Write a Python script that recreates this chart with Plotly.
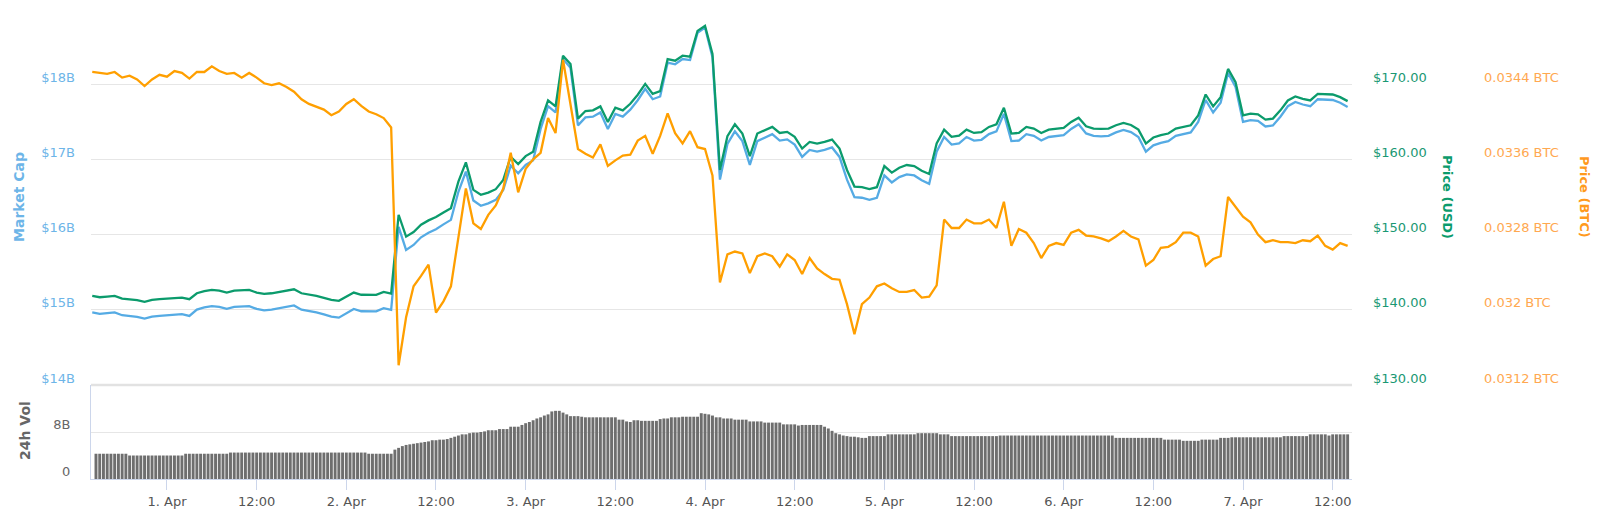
import pandas as pd
import plotly.graph_objects as go

# ---------------- data ----------------
line_start = "2019-03-31 14:00"   # hourly samples
vol_start = "2019-03-31 14:30"    # 30-minute volume bars

price_usd = [
    141.85, 141.67, 141.76, 141.85, 141.50, 141.41, 141.28, 141.06, 141.32, 141.41,
    141.50, 141.54, 141.63, 141.41, 142.20, 142.47, 142.64, 142.55, 142.29, 142.55,
    142.60, 142.64, 142.29, 142.11, 142.20, 142.38, 142.51, 142.73, 142.20, 142.07,
    141.85, 141.59, 141.32, 141.19, 141.76, 142.29, 142.00, 141.98, 141.98, 142.38,
    142.16, 152.64, 149.73, 150.35, 151.32, 151.89, 152.33, 152.95, 153.52, 157.05,
    159.60, 155.95, 155.29, 155.59, 156.04, 157.27, 160.35, 159.38, 160.44, 161.01,
    164.98, 167.84, 167.05, 173.79, 172.69, 165.42, 166.43, 166.52, 167.05, 164.98,
    166.87, 166.52, 167.40, 168.60, 170.04, 168.72, 169.07, 173.33, 173.13, 173.79,
    173.66, 177.09, 177.75, 174.01, 158.59, 163.08, 164.67, 163.44, 160.44, 163.44,
    163.88, 164.32, 163.52, 163.66, 163.00, 161.45, 162.33, 162.11, 162.33, 162.64,
    161.45, 158.59, 156.39, 156.30, 156.04, 156.30, 159.12, 158.24, 158.90, 159.25,
    159.12, 158.50, 158.06, 162.11, 163.96, 163.00, 163.17, 163.96, 163.52, 163.61,
    164.32, 164.67, 166.87, 163.44, 163.52, 164.32, 164.10, 163.52, 163.96, 164.05,
    164.19, 164.98, 165.55, 164.41, 164.10, 164.05, 164.10, 164.54, 164.85, 164.58,
    163.96, 162.11, 162.91, 163.22, 163.44, 164.10, 164.32, 164.54, 165.86, 168.63,
    167.05, 168.28, 172.03, 170.26, 165.86, 166.08, 165.99, 165.29, 165.42, 166.52,
    167.84, 168.37, 168.06, 167.84, 168.72, 168.72, 168.63, 168.28, 167.75,
]

price_btc = [
    0.03453, 0.03452, 0.03451, 0.03453, 0.03447, 0.03449, 0.03445, 0.03438, 0.03445, 0.03450,
    0.03448, 0.03454, 0.03452, 0.03446, 0.03453, 0.03453, 0.03459, 0.03454, 0.03451, 0.03452,
    0.03447, 0.03452, 0.03447, 0.03441, 0.03439, 0.03441, 0.03437, 0.03432, 0.03424, 0.03419,
    0.03416, 0.03413, 0.03407, 0.03411, 0.03419, 0.03424, 0.03417, 0.03411, 0.03408, 0.03404,
    0.03394, 0.03141, 0.03192, 0.03225, 0.03236, 0.03248, 0.03197, 0.03209, 0.03225, 0.03278,
    0.03329, 0.03292, 0.03286, 0.03301, 0.03311, 0.03329, 0.03367, 0.03325, 0.03350, 0.03360,
    0.03367, 0.03404, 0.03388, 0.03466, 0.03420, 0.03371, 0.03366, 0.03362, 0.03376, 0.03353,
    0.03359, 0.03364, 0.03365, 0.03380, 0.03385, 0.03366, 0.03385, 0.03409, 0.03388, 0.03377,
    0.03390, 0.03373, 0.03371, 0.03343, 0.03229, 0.03259, 0.03262, 0.03260, 0.03239, 0.03257,
    0.03260, 0.03257, 0.03246, 0.03259, 0.03253, 0.03238, 0.03255, 0.03244, 0.03238, 0.03233,
    0.03232, 0.03206, 0.03174, 0.03206, 0.03213, 0.03225, 0.03228, 0.03223, 0.03219, 0.03219,
    0.03221, 0.03213, 0.03214, 0.03226, 0.03296, 0.03287, 0.03287, 0.03296, 0.03292, 0.03292,
    0.03296, 0.03287, 0.03315, 0.03268, 0.03286, 0.03282, 0.03271, 0.03255, 0.03268, 0.03271,
    0.03269, 0.03282, 0.03285, 0.03279, 0.03278, 0.03276, 0.03273, 0.03278, 0.03284, 0.03278,
    0.03275, 0.03247, 0.03253, 0.03266, 0.03267, 0.03272, 0.03282, 0.03282, 0.03278, 0.03247,
    0.03254, 0.03257, 0.03320, 0.03310, 0.03299, 0.03293, 0.03280, 0.03272, 0.03274, 0.03272,
    0.03272, 0.03271, 0.03274, 0.03273, 0.03279, 0.03268, 0.03264, 0.03271, 0.03268,
]

market_cap_b = [
    14.965, 14.946, 14.956, 14.965, 14.928, 14.919, 14.905, 14.882, 14.909, 14.919,
    14.928, 14.932, 14.942, 14.919, 15.002, 15.031, 15.049, 15.039, 15.012, 15.039,
    15.044, 15.049, 15.012, 14.993, 15.002, 15.021, 15.035, 15.058, 15.002, 14.988,
    14.965, 14.938, 14.909, 14.896, 14.956, 15.012, 14.981, 14.979, 14.979, 15.021,
    14.998, 16.104, 15.797, 15.862, 15.964, 16.024, 16.071, 16.136, 16.196, 16.569,
    16.838, 16.453, 16.383, 16.415, 16.462, 16.592, 16.917, 16.815, 16.926, 16.987,
    17.405, 17.707, 17.624, 18.335, 18.219, 17.452, 17.558, 17.568, 17.624, 17.405,
    17.605, 17.568, 17.661, 17.787, 17.939, 17.800, 17.837, 18.286, 18.265, 18.335,
    18.321, 18.683, 18.753, 18.358, 16.731, 17.205, 17.373, 17.243, 16.926, 17.243,
    17.289, 17.336, 17.251, 17.266, 17.197, 17.033, 17.126, 17.103, 17.126, 17.159,
    17.033, 16.731, 16.499, 16.490, 16.462, 16.490, 16.787, 16.694, 16.764, 16.801,
    16.787, 16.722, 16.675, 17.103, 17.298, 17.197, 17.214, 17.298, 17.251, 17.261,
    17.336, 17.373, 17.605, 17.243, 17.251, 17.336, 17.313, 17.251, 17.298, 17.307,
    17.322, 17.405, 17.466, 17.345, 17.313, 17.307, 17.313, 17.359, 17.392, 17.363,
    17.298, 17.103, 17.187, 17.220, 17.243, 17.313, 17.336, 17.359, 17.498, 17.790,
    17.624, 17.754, 18.149, 17.962, 17.498, 17.521, 17.512, 17.438, 17.452, 17.568,
    17.707, 17.763, 17.730, 17.707, 17.800, 17.800, 17.790, 17.754, 17.698,
]

volume_b = [
    4.3, 4.3, 4.3, 4.3, 4.3, 4.3, 4.3, 4.3, 4.3,
    4.0, 4.0, 4.0, 4.0, 4.0, 4.0, 4.0, 4.0, 4.0, 4.0, 4.0, 4.0, 4.0, 4.0, 4.0,
    4.3, 4.3, 4.3, 4.3, 4.3, 4.3, 4.3, 4.3, 4.3, 4.3, 4.3, 4.3,
    4.5, 4.5, 4.5, 4.5, 4.5, 4.5, 4.5, 4.5, 4.5, 4.5, 4.5, 4.5, 4.5, 4.5, 4.5, 4.5,
    4.5, 4.5, 4.5, 4.5, 4.5, 4.5, 4.5, 4.5, 4.5, 4.5, 4.5, 4.5, 4.5, 4.5, 4.5, 4.5,
    4.5, 4.5, 4.5, 4.5, 4.5,
    4.3, 4.3, 4.3, 4.3, 4.3, 4.3, 4.3,
    5.0, 5.3, 5.6, 5.8, 5.9, 6.0, 6.1, 6.2, 6.3, 6.4,
    6.6, 6.6, 6.7, 6.7, 6.8, 7.0, 7.2, 7.4, 7.6, 7.6,
    7.8, 7.9, 7.9, 8.0, 8.1, 8.3, 8.3, 8.3, 8.5, 8.5,
    8.5, 8.9, 8.9, 8.9, 9.2, 9.5, 9.7, 10.0, 10.3, 10.5,
    10.8, 11.0, 11.5, 11.6, 11.6, 11.3, 11.0, 10.7, 10.7, 10.7,
    10.6,
    10.5, 10.5, 10.5, 10.5, 10.5, 10.5, 10.5, 10.5, 10.5,
    10.1, 10.1, 9.8, 9.7, 10.0, 10.0,
    9.9, 9.9, 9.9, 9.9, 9.9,
    10.2, 10.3, 10.3, 10.5, 10.5, 10.5,
    10.6, 10.6, 10.6, 10.6, 10.6,
    11.2, 11.1, 11.0, 10.8, 10.5, 10.5, 10.3, 10.3, 10.3,
    10.1, 10.1, 10.1, 10.1,
    9.8, 9.8, 9.8, 9.8,
    9.6, 9.6, 9.6, 9.6, 9.6,
    9.3, 9.3, 9.3, 9.3,
    9.1,
    9.2, 9.2, 9.2, 9.2, 9.2, 9.2,
    8.9, 8.6, 8.2, 7.8, 7.6, 7.4, 7.3, 7.2, 7.2, 7.1, 7.0, 7.0,
    7.3, 7.3, 7.3, 7.3, 7.3,
    7.6, 7.6, 7.6, 7.6, 7.6, 7.6, 7.6, 7.6,
    7.8, 7.8, 7.8, 7.8, 7.8, 7.8,
    7.6, 7.6, 7.6,
    7.3, 7.3, 7.3, 7.3, 7.3, 7.3, 7.3, 7.3, 7.3, 7.3, 7.3, 7.3, 7.3,
    7.4, 7.4, 7.4, 7.4, 7.4, 7.4, 7.4, 7.4, 7.4, 7.4, 7.4, 7.4, 7.4, 7.4, 7.4, 7.4,
    7.4, 7.4, 7.4, 7.4, 7.4, 7.4, 7.4, 7.4, 7.4, 7.4, 7.4, 7.4, 7.4, 7.4, 7.4,
    7.0, 7.0, 7.0, 7.0, 7.0, 7.0, 7.0, 7.0, 7.0, 7.0, 7.0, 7.0, 7.0,
    6.7, 6.7, 6.7, 6.7, 6.7,
    6.5, 6.5, 6.5, 6.5, 6.5,
    6.7, 6.7, 6.7, 6.7, 6.7,
    7.0, 7.0, 7.0,
    7.1, 7.1, 7.1, 7.1, 7.1, 7.1, 7.1, 7.1, 7.1, 7.1, 7.1, 7.1, 7.1, 7.1,
    7.3, 7.3, 7.3, 7.3, 7.3, 7.3, 7.3,
    7.6, 7.6, 7.6, 7.6, 7.6,
    7.4,
    7.6, 7.6, 7.6, 7.6, 7.6,
]

x_tick_vals = ["2019-04-01 00:00", "2019-04-01 12:00", "2019-04-02 00:00", "2019-04-02 12:00",
               "2019-04-03 00:00", "2019-04-03 12:00", "2019-04-04 00:00", "2019-04-04 12:00",
               "2019-04-05 00:00", "2019-04-05 12:00", "2019-04-06 00:00", "2019-04-06 12:00",
               "2019-04-07 00:00", "2019-04-07 12:00"]
x_tick_text = ["1. Apr", "12:00", "2. Apr", "12:00", "3. Apr", "12:00", "4. Apr", "12:00",
               "5. Apr", "12:00", "6. Apr", "12:00", "7. Apr", "12:00"]
x_range = ["2019-03-31 13:50", "2019-04-07 14:35"]

mcap_ticks = [14, 15, 16, 17, 18, 19]
mcap_tick_text = ["$14B", "$15B", "$16B", "$17B", "$18B", ""]
usd_ticks = [130, 140, 150, 160, 170, 180]
usd_tick_text = ["$130.00", "$140.00", "$150.00", "$160.00", "$170.00", ""]
btc_ticks = [0.0312, 0.0320, 0.0328, 0.0336, 0.0344, 0.0352]
btc_tick_text = ["0.0312 BTC", "0.032 BTC", "0.0328 BTC", "0.0336 BTC", "0.0344 BTC", ""]
vol_ticks = [0, 8, 16]
vol_tick_text = ["0", "8B", ""]

assert len(price_usd) == len(price_btc) == len(market_cap_b) == 169, (len(price_usd), len(price_btc), len(market_cap_b))
assert len(volume_b) == 336, len(volume_b)

line_times = pd.date_range(line_start, periods=len(price_usd), freq="h")
vol_times = pd.date_range(vol_start, periods=len(volume_b), freq="30min")

# ---------------- style ----------------
FONT = "DejaVu Sans"
C_MCAP = "#55abe4"
C_MCAP_TXT = "#6db5e8"
C_USD = "#0b9b6c"
C_USD_TXT = "#1a9873"
C_BTC = "#ff9f00"
C_BTC_TXT = "#ffa850"
GRID = "#e6e6e6"
AXLINE = "#ccd6eb"

W, H = 1600, 514
ML, MR, MT, MB = 91, 0, 9, 35
PW = W - ML - MR
PH = H - MT - MB
PLOT_RIGHT = 1352


def px_x(px):
    return (px - ML) / PW


def px_y(py):
    return (H - MB - py) / PH


fig = go.Figure()
fig.add_trace(go.Scatter(x=line_times, y=market_cap_b, mode="lines", yaxis="y",
                         line=dict(color=C_MCAP, width=2.3), hoverinfo="skip", name="Market Cap"))
fig.add_trace(go.Scatter(x=line_times, y=price_usd, mode="lines", yaxis="y2",
                         line=dict(color=C_USD, width=2.3), hoverinfo="skip", name="Price (USD)"))
fig.add_trace(go.Scatter(x=line_times, y=price_btc, mode="lines", yaxis="y3",
                         line=dict(color=C_BTC, width=2.3), hoverinfo="skip", name="Price (BTC)"))
fig.add_trace(go.Bar(x=vol_times, y=volume_b, yaxis="y4",
                     marker=dict(color="#6e6e6e", line=dict(width=0)), hoverinfo="skip", name="24h Vol"))

fig.update_layout(
    width=W, height=H,
    margin=dict(l=ML, r=MR, t=MT, b=MB, pad=0),
    paper_bgcolor="white", plot_bgcolor="white",
    showlegend=False,
    bargap=0.22,
    font=dict(family=FONT),
    xaxis=dict(domain=[0, px_x(PLOT_RIGHT)], anchor="y4", type="date", range=x_range,
               tickmode="array", tickvals=x_tick_vals, ticktext=x_tick_text,
               showgrid=False, zeroline=False, showline=True, linecolor=AXLINE, linewidth=1,
               ticks="outside", ticklen=10, tickcolor=AXLINE, tickwidth=1,
               tickfont=dict(family=FONT, size=13, color="#555555")),
    yaxis=dict(domain=[px_y(385), 1], range=[14, 19], tickmode="array",
               tickvals=mcap_ticks, ticktext=mcap_tick_text,
               showgrid=True, gridcolor=GRID, gridwidth=1, zeroline=False, showline=False,
               ticks="", ticklabelshift=-7, ticklabelstandoff=15,
               tickfont=dict(family=FONT, size=13, color=C_MCAP_TXT)),
    yaxis2=dict(overlaying="y", side="right", anchor="x", range=[130, 180], tickmode="array",
                tickvals=usd_ticks, ticktext=usd_tick_text, showgrid=False, zeroline=False,
                showline=False, ticks="", ticklabelshift=-7, ticklabelstandoff=20,
                tickfont=dict(family=FONT, size=13, color=C_USD_TXT)),
    yaxis3=dict(overlaying="y", side="right", anchor="free", position=px_x(1483),
                range=[0.0312, 0.0352], tickmode="array",
                tickvals=btc_ticks, ticktext=btc_tick_text, showgrid=False, zeroline=False,
                showline=False, ticks="", ticklabelshift=-7, ticklabelstandoff=0,
                tickfont=dict(family=FONT, size=13, color=C_BTC_TXT)),
    yaxis4=dict(domain=[0, px_y(385)], anchor="x", range=[0, 16], tickmode="array",
                tickvals=vol_ticks, ticktext=vol_tick_text,
                showgrid=True, gridcolor=GRID, gridwidth=1, zeroline=False,
                showline=True, linecolor=AXLINE, linewidth=1,
                ticks="", ticklabelshift=-8, ticklabelstandoff=17,
                tickfont=dict(family=FONT, size=13, color="#666666")),
    shapes=[
        dict(type="line", xref="paper", yref="paper", x0=0, x1=px_x(PLOT_RIGHT),
             y0=px_y(385), y1=px_y(385), line=dict(color="#e2e2e2", width=2.5), layer="below"),
    ],
    annotations=[
        dict(text="<b>Market Cap</b>", xref="paper", yref="paper", x=px_x(19), y=px_y(197),
             textangle=-90, showarrow=False, xanchor="center", yanchor="middle",
             font=dict(family=FONT, size=14, color=C_MCAP_TXT)),
        dict(text="<b>Price (USD)</b>", xref="paper", yref="paper", x=px_x(1448), y=px_y(197),
             textangle=90, showarrow=False, xanchor="center", yanchor="middle",
             font=dict(family=FONT, size=13, color=C_USD)),
        dict(text="<b>Price (BTC)</b>", xref="paper", yref="paper", x=px_x(1585), y=px_y(197),
             textangle=90, showarrow=False, xanchor="center", yanchor="middle",
             font=dict(family=FONT, size=13, color="#ff9a1e")),
        dict(text="<b>24h Vol</b>", xref="paper", yref="paper", x=px_x(25), y=px_y(431),
             textangle=-90, showarrow=False, xanchor="center", yanchor="middle",
             font=dict(family=FONT, size=14, color="#666666")),
    ],
)

fig.write_html("out.html")
